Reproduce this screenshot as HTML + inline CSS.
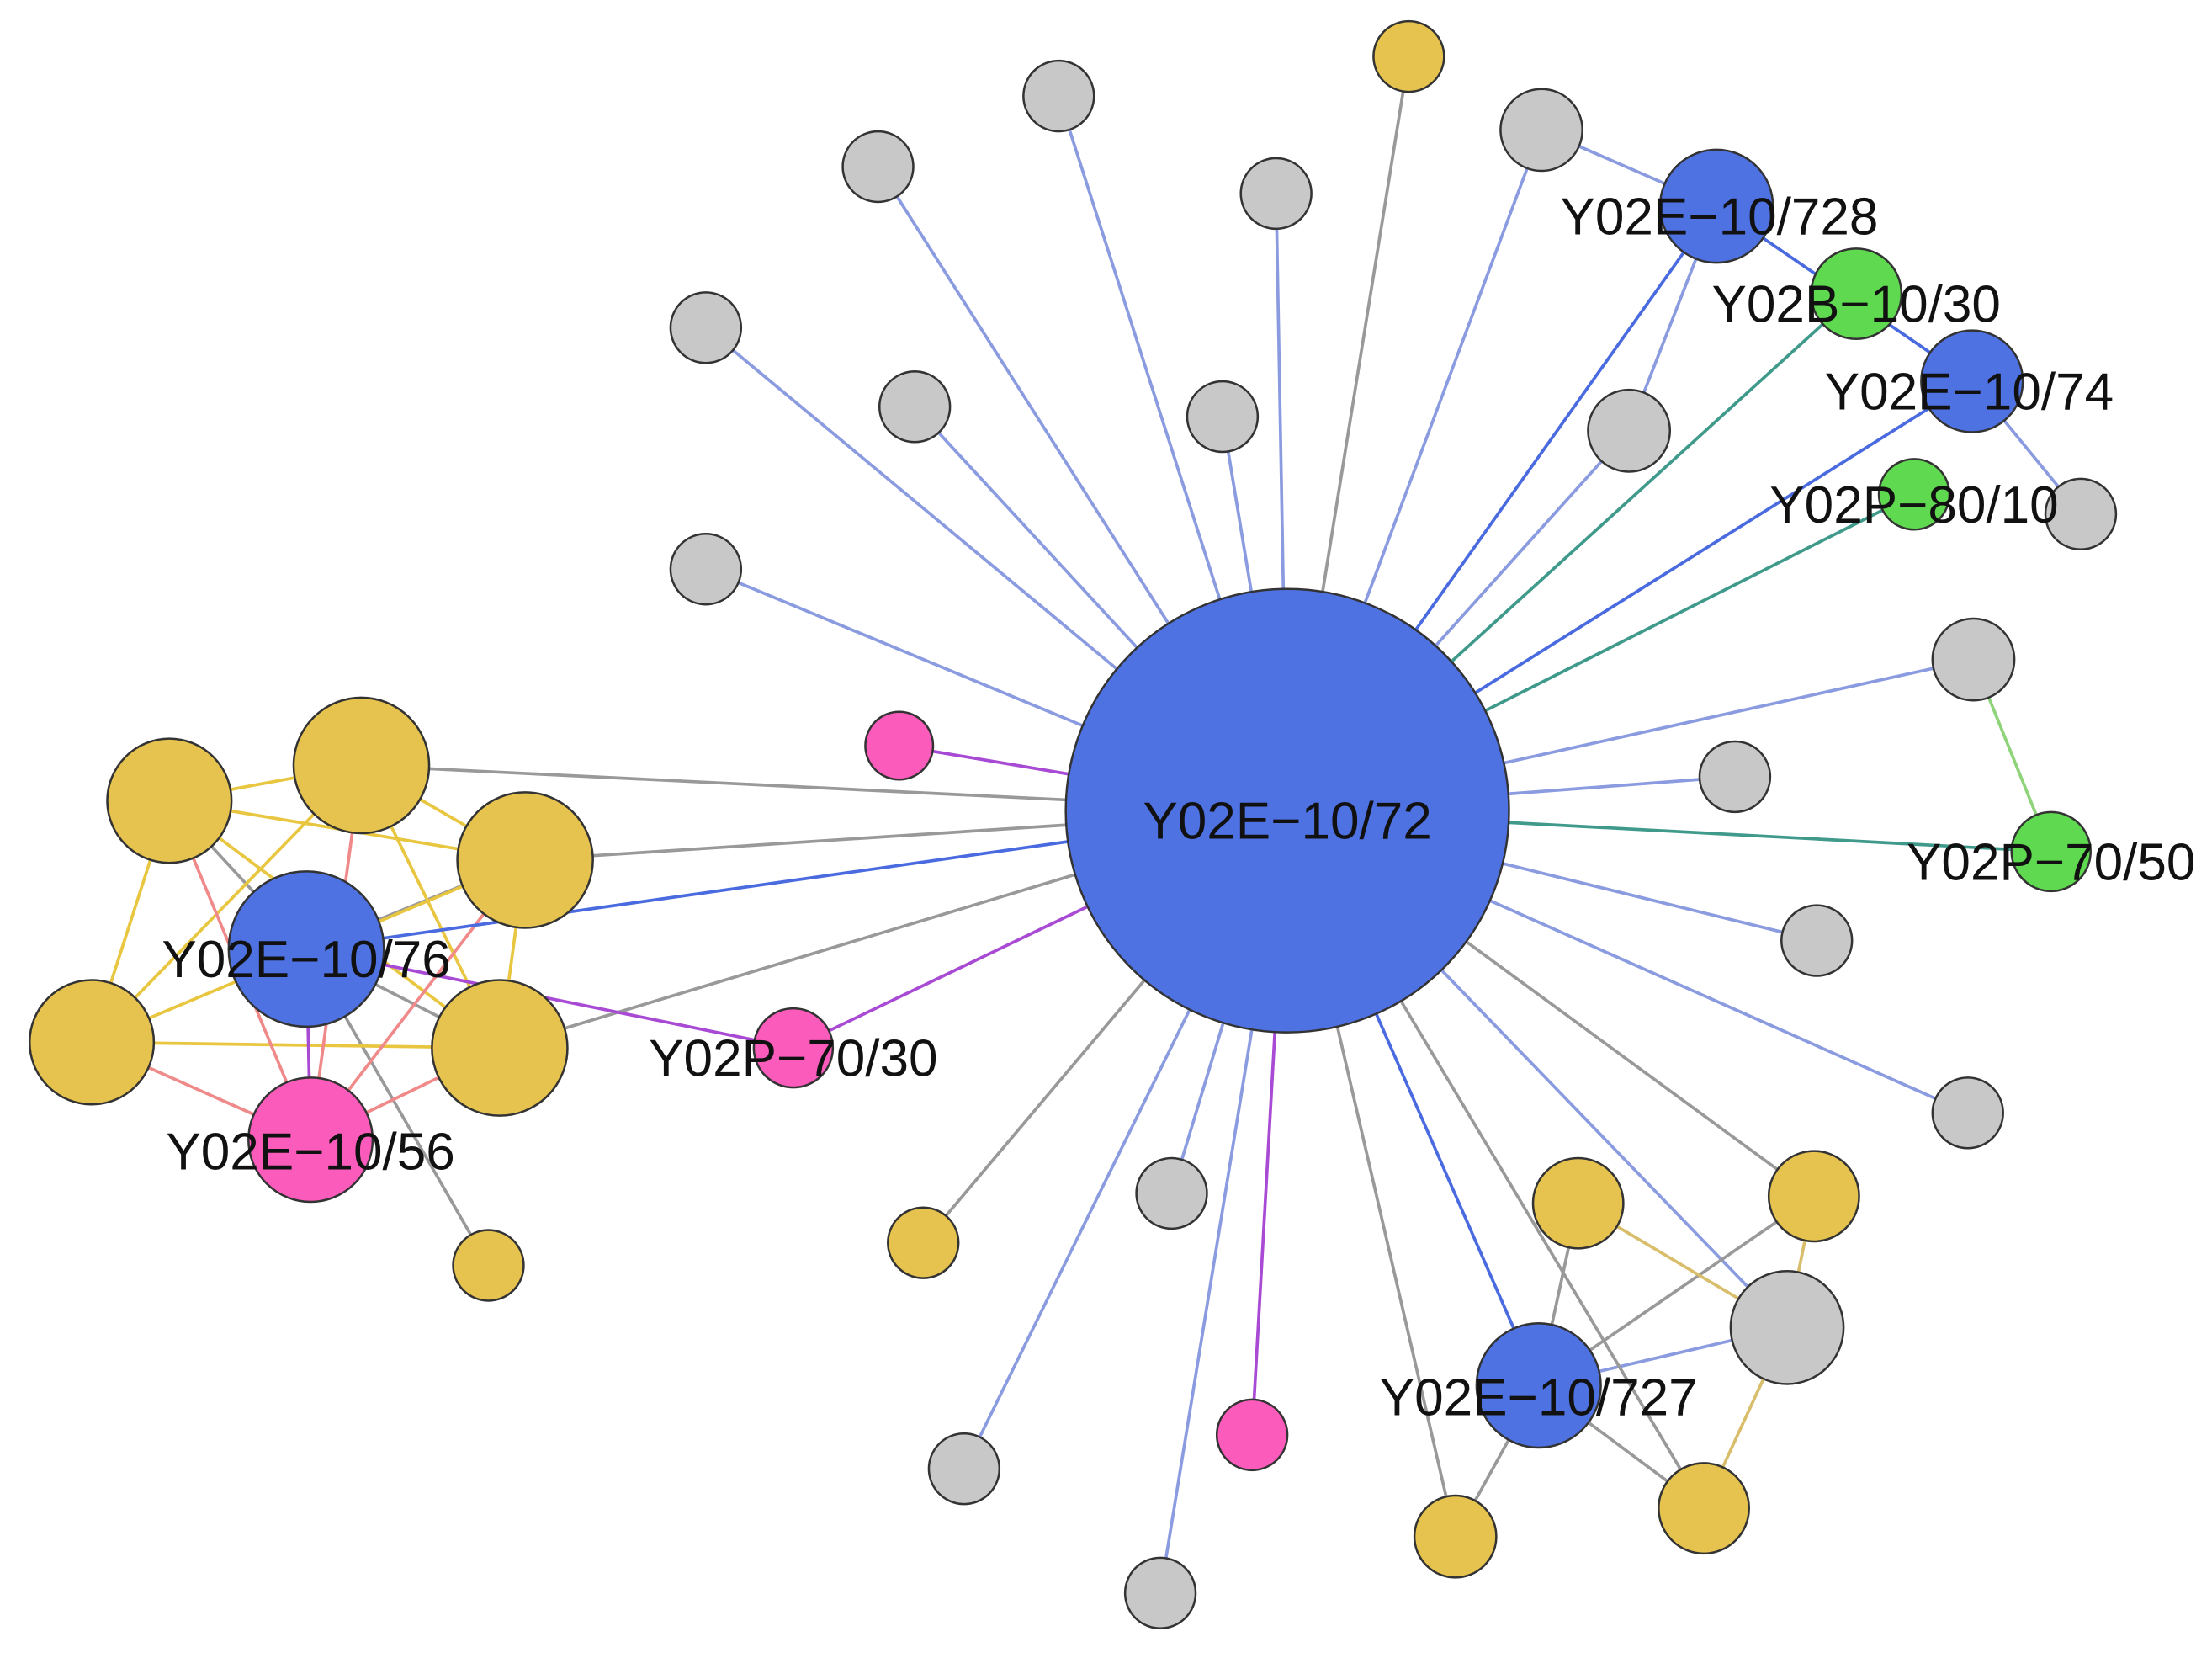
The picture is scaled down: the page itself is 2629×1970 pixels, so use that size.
<!DOCTYPE html>
<html><head><meta charset="utf-8"><style>html,body{margin:0;padding:0;background:#fff}svg{display:block}</style></head>
<body>
<svg width="2629" height="1970" viewBox="0 0 1567 1174" preserveAspectRatio="none" xmlns="http://www.w3.org/2000/svg">
<g stroke-width="2.2" fill="none">
<g stroke="#8b9be0">
<line x1="912" y1="574" x2="750" y2="68"/><line x1="912" y1="574" x2="622" y2="118"/>
<line x1="912" y1="574" x2="904" y2="137"/><line x1="912" y1="574" x2="1092" y2="92"/>
<line x1="912" y1="574" x2="500" y2="232"/><line x1="912" y1="574" x2="648" y2="288"/>
<line x1="912" y1="574" x2="866" y2="295"/><line x1="912" y1="574" x2="1154" y2="305"/>
<line x1="912" y1="574" x2="500" y2="403"/><line x1="912" y1="574" x2="1398" y2="467"/>
<line x1="912" y1="574" x2="1229" y2="550"/><line x1="912" y1="574" x2="1287" y2="666"/>
<line x1="912" y1="574" x2="1394" y2="788"/><line x1="912" y1="574" x2="830" y2="845"/>
<line x1="912" y1="574" x2="683" y2="1040"/><line x1="912" y1="574" x2="822" y2="1128"/>
<line x1="912" y1="574" x2="1266" y2="940"/>
<line x1="1092" y1="92" x2="1216" y2="146"/><line x1="1154" y1="305" x2="1216" y2="146"/>
<line x1="1397" y1="270" x2="1474" y2="364"/><line x1="1090" y1="981" x2="1266" y2="940"/>
</g>
<g stroke="#999">
<line x1="912" y1="574" x2="998" y2="40"/><line x1="912" y1="574" x2="654" y2="880"/>
<line x1="912" y1="574" x2="256" y2="542"/><line x1="912" y1="574" x2="372" y2="609"/>
<line x1="912" y1="574" x2="354" y2="742"/><line x1="912" y1="574" x2="1285" y2="847"/>
<line x1="912" y1="574" x2="1207" y2="1068"/><line x1="912" y1="574" x2="1031" y2="1088"/>
<line x1="1090" y1="981" x2="1285" y2="847"/><line x1="1090" y1="981" x2="1118" y2="852"/>
<line x1="1090" y1="981" x2="1207" y2="1068"/><line x1="1090" y1="981" x2="1031" y2="1088"/>
<line x1="217" y1="672" x2="346" y2="896"/><line x1="217" y1="672" x2="120" y2="567"/>
<line x1="217" y1="672" x2="354" y2="742"/><line x1="217" y1="672" x2="372" y2="609"/>
</g>
<g stroke="#d8bd6a">
<line x1="1118" y1="852" x2="1266" y2="940"/><line x1="1285" y1="847" x2="1266" y2="940"/>
<line x1="1207" y1="1068" x2="1266" y2="940"/>
</g>
<g stroke="#e8c640">
<line x1="120" y1="567" x2="256" y2="542"/><line x1="120" y1="567" x2="372" y2="609"/>
<line x1="120" y1="567" x2="65" y2="738"/><line x1="256" y1="542" x2="372" y2="609"/>
<line x1="256" y1="542" x2="65" y2="738"/><line x1="256" y1="542" x2="354" y2="742"/>
<line x1="372" y1="609" x2="354" y2="742"/><line x1="65" y1="738" x2="354" y2="742"/>
<line x1="65" y1="738" x2="372" y2="609"/><line x1="120" y1="567" x2="354" y2="742"/>
</g>
<g stroke="#f08a8a">
<line x1="220" y1="807" x2="65" y2="738"/><line x1="220" y1="807" x2="120" y2="567"/>
<line x1="220" y1="807" x2="256" y2="542"/><line x1="220" y1="807" x2="372" y2="609"/>
<line x1="220" y1="807" x2="354" y2="742"/>
</g>
<g stroke="#4a6ae0">
<line x1="912" y1="574" x2="1216" y2="146"/><line x1="912" y1="574" x2="1397" y2="270"/>
<line x1="912" y1="574" x2="1090" y2="981"/><line x1="912" y1="574" x2="217" y2="672"/>
<line x1="1216" y1="146" x2="1397" y2="270"/>
</g>
<g stroke="#3f9a8c">
<line x1="912" y1="574" x2="1315" y2="208"/><line x1="912" y1="574" x2="1356" y2="350"/>
<line x1="912" y1="574" x2="1453" y2="603"/>
</g>
<line x1="1398" y1="467" x2="1453" y2="603" stroke="#8fd47a"/>
<g stroke="#a84ad4">
<line x1="912" y1="574" x2="637" y2="528"/><line x1="912" y1="574" x2="562" y2="742"/>
<line x1="912" y1="574" x2="887" y2="1016"/><line x1="217" y1="672" x2="562" y2="742"/>
<line x1="217" y1="672" x2="220" y2="807"/>
</g>
</g>
<g stroke="#333" stroke-width="1.5">
<g fill="#c8c8c8">
<circle cx="750" cy="68" r="25"/><circle cx="622" cy="118" r="25"/><circle cx="904" cy="137" r="25"/>
<circle cx="1092" cy="92" r="29"/><circle cx="500" cy="232" r="25"/><circle cx="648" cy="288" r="25"/>
<circle cx="866" cy="295" r="25"/><circle cx="1154" cy="305" r="29"/><circle cx="500" cy="403" r="25"/>
<circle cx="1474" cy="364" r="25"/><circle cx="1398" cy="467" r="29"/><circle cx="1229" cy="550" r="25"/>
<circle cx="1287" cy="666" r="25"/><circle cx="1394" cy="788" r="25"/><circle cx="830" cy="845" r="25"/>
<circle cx="683" cy="1040" r="25"/><circle cx="822" cy="1128" r="25"/><circle cx="1266" cy="940" r="40"/>
</g>
<g fill="#e6c34e">
<circle cx="998" cy="40" r="25"/><circle cx="654" cy="880" r="25"/><circle cx="346" cy="896" r="25"/>
<circle cx="1118" cy="852" r="32"/><circle cx="1285" cy="847" r="32"/><circle cx="1207" cy="1068" r="32"/>
<circle cx="1031" cy="1088" r="29"/>
<circle cx="120" cy="567" r="44"/><circle cx="256" cy="542" r="48"/><circle cx="372" cy="609" r="48"/>
<circle cx="65" cy="738" r="44"/><circle cx="354" cy="742" r="48"/>
</g>
<g fill="#4f72e3">
<circle cx="912" cy="574" r="157"/><circle cx="1216" cy="146" r="40"/><circle cx="1397" cy="270" r="36"/>
<circle cx="217" cy="672" r="55"/><circle cx="1090" cy="981" r="44"/>
</g>
<g fill="#5fd94f">
<circle cx="1315" cy="208" r="32"/><circle cx="1356" cy="350" r="25"/><circle cx="1453" cy="603" r="28"/>
</g>
<g fill="#fb5cbc">
<circle cx="637" cy="528" r="24"/><circle cx="562" cy="742" r="28"/><circle cx="220" cy="807" r="44"/><circle cx="887" cy="1016" r="25"/>
</g>
</g>
<g font-family="Liberation Sans, sans-serif" font-size="37" fill="#111" text-anchor="middle">
<text x="912" y="594">Y02E−10/72</text>
<text x="1218" y="166">Y02E−10/728</text>
<text x="1315" y="228">Y02B−10/30</text>
<text x="1395" y="290">Y02E−10/74</text>
<text x="1356" y="370">Y02P−80/10</text>
<text x="1453" y="623">Y02P−70/50</text>
<text x="217" y="692">Y02E−10/76</text>
<text x="562" y="762">Y02P−70/30</text>
<text x="220" y="828">Y02E−10/56</text>
<text x="1090" y="1002">Y02E−10/727</text>
</g>
</svg>
</body></html>
